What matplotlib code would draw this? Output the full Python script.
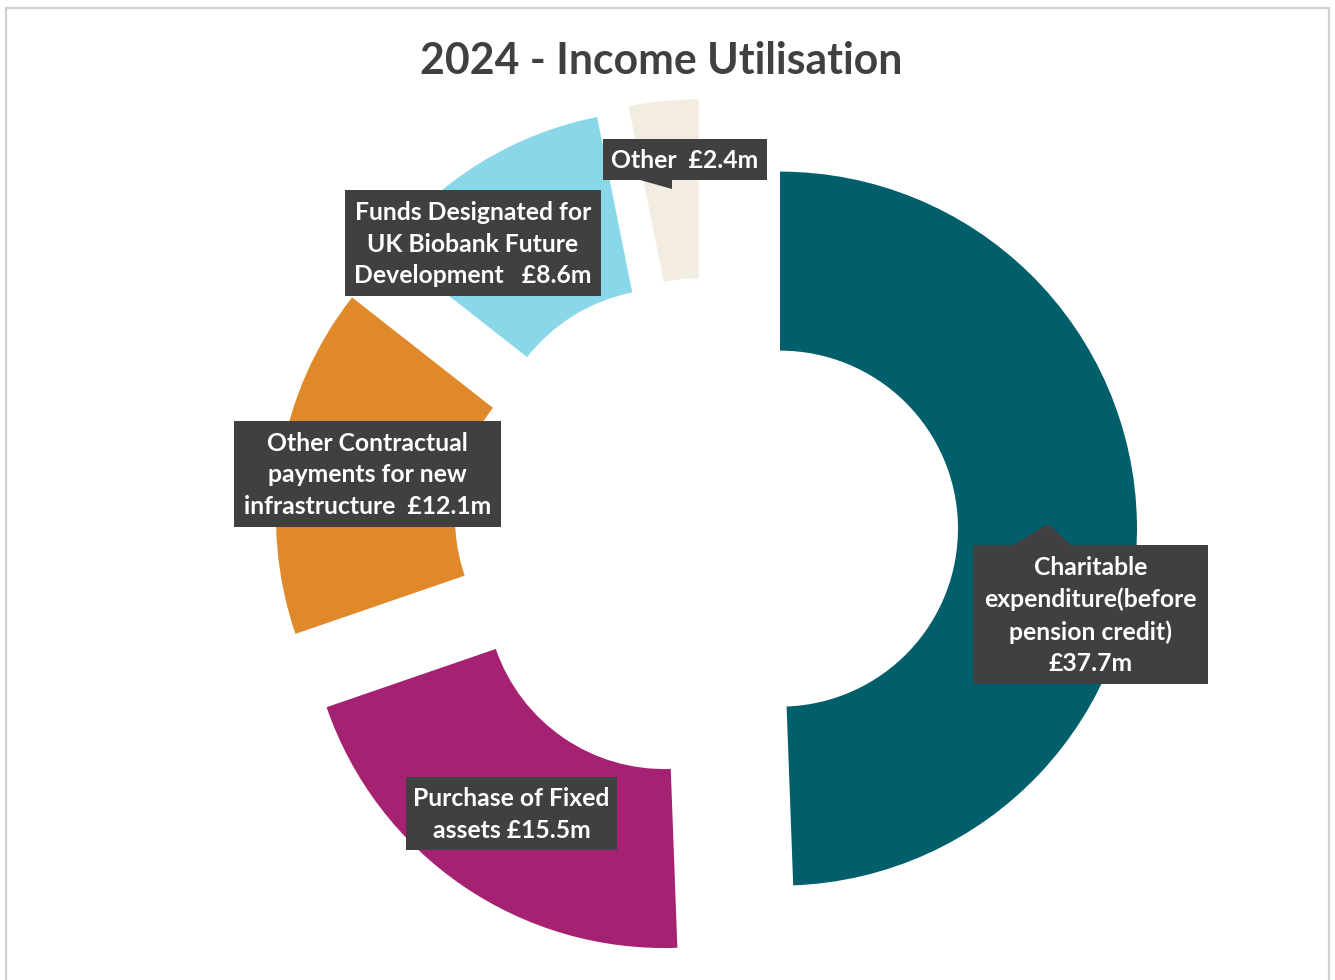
import matplotlib
matplotlib.use("Agg")
import matplotlib.pyplot as plt
from matplotlib.patches import Rectangle, Polygon

# Income utilisation, £m
categories = [
    "Charitable\nexpenditure(before\npension credit)",
    "Purchase of Fixed\nassets",
    "Other Contractual\npayments for new\ninfrastructure",
    "Funds Designated for\nUK Biobank Future\nDevelopment",
    "Other",
]
values = [37.7, 15.5, 12.1, 8.6, 2.4]
separators = ["\n", " ", "  ", "   ", "  "]
colors = ["#005F6B", "#A52272", "#E0892A", "#8AD7EA", "#F2EDE0"]
title = "2024 - Income Utilisation"

W, H = 1335, 980
FONT = "Lato"
TEXT_DARK = "#404040"

fig = plt.figure(figsize=(W / 100, H / 100), dpi=100)
ax = fig.add_axes([0, 0, 1, 1])


def yy(y):
    """Convert a top-down pixel row to the axis' upward y coordinate."""
    return H - y


radius = 357
ax.pie(
    values,
    colors=colors,
    startangle=90,
    counterclock=False,
    radius=radius,
    center=(706, yy(530)),
    explode=[74] * len(values),
    wedgeprops=dict(width=179, linewidth=0),
    frame=True,
)
ax.set_xlim(0, W)
ax.set_ylim(0, H)
ax.set_aspect("equal")
ax.axis("off")

# chart area border
ax.add_patch(Rectangle((6, yy(995)), 1323, 987, fill=False,
                       edgecolor="#D0D0D0", linewidth=1.6, zorder=1))

ax.text(661, yy(61), title, ha="center", va="center", fontsize=30.8,
        fontweight="bold", color=TEXT_DARK, family=FONT)

# data label callouts: box (left, top, right, bottom) and optional pointer
boxes = [
    ((973, 545, 1208, 684), [(1013, 545), (1048, 524), (1071, 545)]),
    ((406, 777, 617, 850), None),
    ((234, 421, 501, 527), None),
    ((345, 190, 601, 296), None),
    ((603, 139, 767, 180), [(640, 180), (672, 189), (672, 180)]),
]

for cat, val, sep, (box, ptr) in zip(categories, values, separators, boxes):
    l, t, r, b = box
    ax.add_patch(Rectangle((l, yy(b)), r - l, b - t, facecolor=TEXT_DARK,
                           edgecolor="none", zorder=5))
    if ptr:
        ax.add_patch(Polygon([(x, yy(y)) for x, y in ptr], closed=True,
                             facecolor=TEXT_DARK, edgecolor="none", zorder=5))
    ax.text((l + r) / 2, yy((t + b) / 2 + 1), f"{cat}{sep}£{val}m",
            ha="center", va="center", multialignment="center",
            fontsize=17.8, fontweight="bold", color="white", family=FONT,
            linespacing=1.44, zorder=6)

fig.savefig("out.png", dpi=100)
